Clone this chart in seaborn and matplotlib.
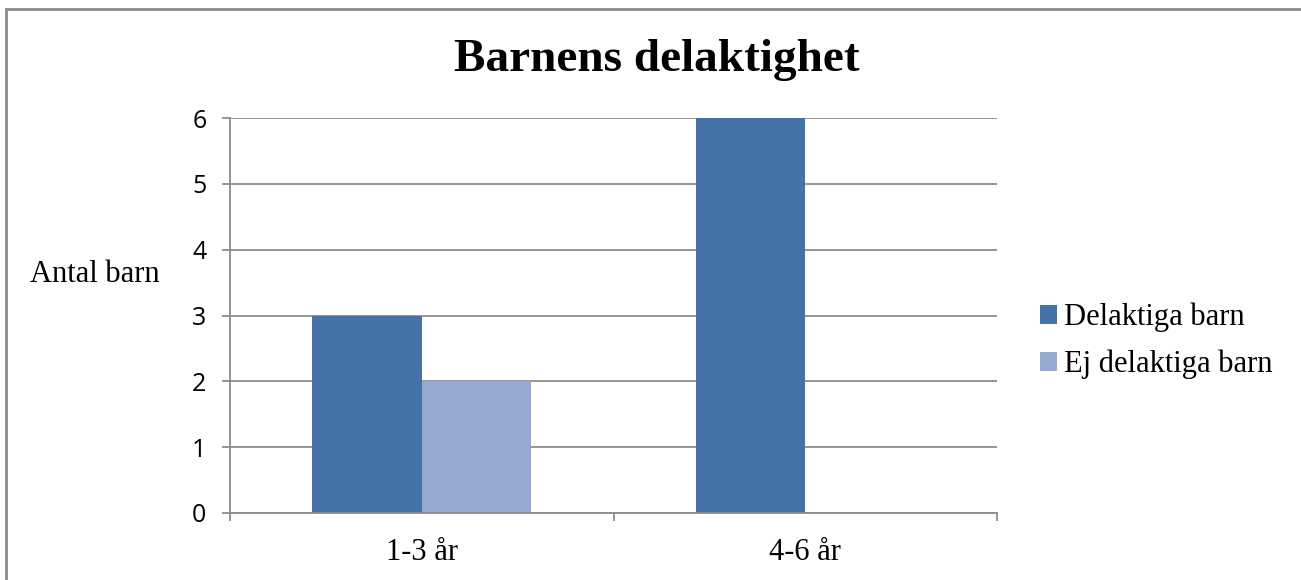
import pandas as pd
import matplotlib.pyplot as plt
import seaborn as sns
from matplotlib.patches import Rectangle

# data
categories = ["1-3 år", "4-6 år"]
series = ["Delaktiga barn", "Ej delaktiga barn"]
delaktiga = [3, 6]
ej_delaktiga = [2, 0]
colors = ["#4573A7", "#95A9D1"]
y_ticks = [0, 1, 2, 3, 4, 5, 6]

df = pd.DataFrame({
    "grupp": categories * 2,
    "typ": [series[0]] * 2 + [series[1]] * 2,
    "antal": delaktiga + ej_delaktiga,
})

sns.set_style("white")
plt.rcParams["text.color"] = "black"
plt.rcParams["xtick.labelcolor"] = "black"
plt.rcParams["ytick.labelcolor"] = "black"
serif = ["Liberation Serif", "DejaVu Serif"]
grid_col = "#8c8c8c"

fig = plt.figure(figsize=(13.01, 5.80), dpi=100)
ax = fig.add_axes([230 / 1301, 1 - 513 / 580, 767 / 1301, 395 / 580])

sns.barplot(data=df, x="grupp", y="antal", hue="typ", order=categories,
            hue_order=series, palette=colors, width=0.57, gap=0,
            saturation=1, linewidth=0, ax=ax, legend=True)

ax.set_xlim(-0.5, 1.5)
ax.set_ylim(0, 6)
ax.set_yticks(y_ticks)
ax.yaxis.grid(True, color=grid_col, linewidth=1.3)
ax.set_axisbelow(True)
for s in ["top", "right"]:
    ax.spines[s].set_visible(False)
for s in ["left", "bottom"]:
    ax.spines[s].set_color(grid_col)
    ax.spines[s].set_linewidth(1.3)

ax.set_xlabel("")
ax.set_ylabel("")
ax.tick_params(axis="y", length=6, width=1.3, color=grid_col, pad=11,
               labelsize=18, left=True, labelcolor="black")
for t in ax.get_yticklabels():
    t.set_fontfamily(["Open Sans", "DejaVu Sans"])
ax.set_xticks([-0.5, 0.5, 1.5], minor=True)
ax.tick_params(axis="x", which="minor", length=6, width=1.3, color=grid_col,
               direction="out", bottom=True)
ax.tick_params(axis="x", which="major", length=0, pad=18, labelsize=22,
               labelcolor="black")
for t in ax.get_xticklabels():
    t.set_fontfamily(serif)

handles, labels = ax.get_legend_handles_labels()
ax.legend_.remove()
fig.legend(handles, labels, loc="center left",
           bbox_to_anchor=(1040 / 1301, 1 - 341 / 580),
           frameon=False, prop={"family": serif, "size": 22},
           handlelength=0.55, handleheight=0.55, handletextpad=0.25,
           labelspacing=0.57, borderaxespad=0, borderpad=0)

fig.text(657 / 1301, 1 - 60 / 580, "Barnens delaktighet", ha="center",
         va="center", fontsize=34, fontweight="bold", family=serif,
         color="black")
fig.text(30 / 1301, 1 - 275 / 580, "Antal barn", ha="left", va="center",
         fontsize=22, family=serif, color="black")

fig.patches.append(Rectangle((6 / 1301, -0.1), 1.2, 1.1 - 9 / 580,
                             transform=fig.transFigure, fill=False,
                             edgecolor="#8c8c8c", linewidth=2))

fig.savefig("out.png", dpi=100)
plt.close(fig)
